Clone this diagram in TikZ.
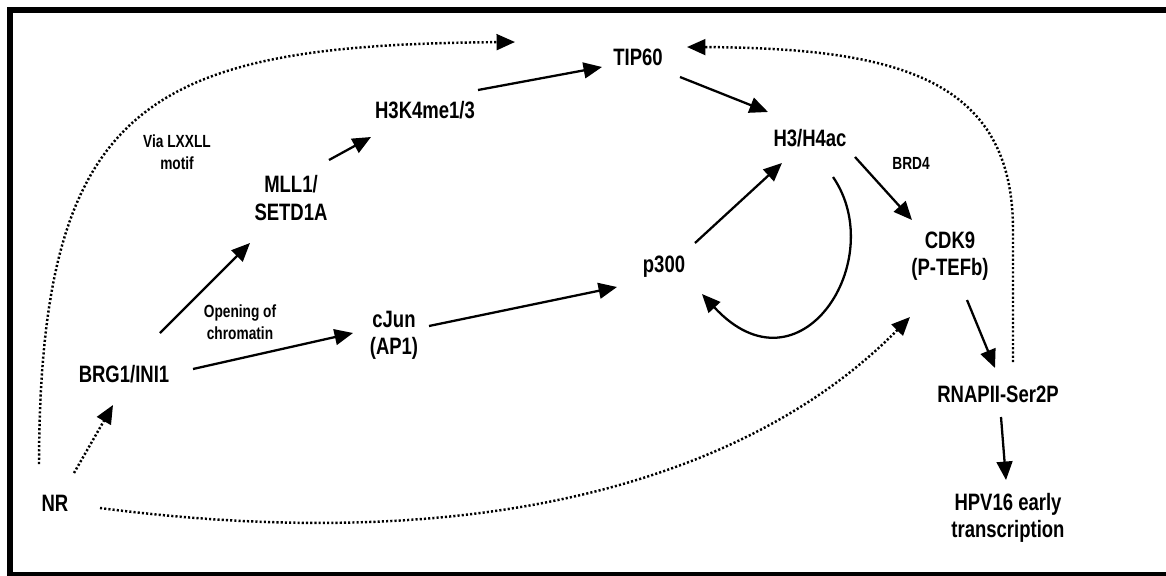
\documentclass[tikz,border=0pt]{standalone}
\usepackage{fontspec}
\setmainfont[FakeStretch=0.78]{Liberation Sans}
\usetikzlibrary{arrows.meta,calc}
\tikzset{
  lbl/.style={font=\fontsize{13.5}{15.4}\selectfont\bfseries, align=center, inner sep=1pt},
  sml/.style={font=\fontsize{10}{12.5}\selectfont\bfseries, align=center, inner sep=1pt},
  arr/.style={line width=1.3pt, -{Triangle[length=10.5pt,width=9pt]}},
  darr/.style={line width=1.4pt, dash pattern=on 1.2pt off 1.2pt, -{Triangle[length=10.5pt,width=9pt]}},
}
\begin{document}
\begin{tikzpicture}[x=0.02cm,y=-0.02cm]
\useasboundingbox (0,0) rectangle (1166,575);
\clip (0,0) rectangle (1166,575);
\draw[line width=3.4pt] (10,10) rectangle (1185,575);

\node[lbl] (TIP) at (638,57) {TIP60};
\node[lbl] (H3K4) at (425,110) {H3K4me1/3};
\node[lbl] (MLL) at (291,198) {MLL1/\\SETD1A};
\node[sml] (via) at (177,152) {Via LXXLL\\motif};
\node[lbl] (H3H4) at (810,138) {H3/H4ac};
\node[sml] (BRD) at (911,163) {BRD4};
\node[lbl] (CDK) at (950,256) {CDK9\\(P-TEFb)};
\node[lbl] (p300) at (664,267) {p300};
\node[lbl] (BRG) at (124,374) {BRG1/INI1};
\node[sml] (open) at (240,322) {Opening of\\chromatin};
\node[lbl] (cJun) at (394,335) {cJun\\(AP1)};
\node[lbl] (NR) at (55,503) {NR};
\node[lbl] (RNAP) at (998,394) {RNAPII-Ser2P};
\node[lbl] (HPV) at (1008,518) {HPV16 early\\transcription};

\draw[arr] ($(H3K4)+(53,-20)$) -- ($(TIP)+(-36,10)$);
\draw[arr] ($(MLL)+(38,-38)$) -- ($(H3K4)+(-54,27)$);
\draw[arr] ($(BRG)+(36,-41)$) -- ($(MLL)+(-41,45)$);
\draw[arr] ($(BRG)+(69,-5)$) -- ($(cJun)+(-41,-2)$);
\draw[arr] ($(cJun)+(35,-9)$) -- ($(p300)+(-47,20)$);
\draw[arr] ($(p300)+(31,-24)$) -- ($(H3H4)+(-28,25)$);
\draw[arr] ($(TIP)+(42,20)$) -- ($(H3H4)+(-42,-26)$);
\draw[arr] ($(H3H4)+(45,19)$) -- ($(CDK)+(-38,-36)$);
\draw[arr] ($(H3H4)+(23,39)$) .. controls (890,260) and (800,400) .. ($(p300)+(38,27)$);
\draw[arr] ($(CDK)+(17,44)$) -- ($(RNAP)+(-3,-26)$);
\draw[arr] ($(RNAP)+(3,23)$) -- ($(HPV)+(-2,-38)$);

\draw[darr] ($(NR)+(19,-30)$) -- ($(BRG)+(-11,31)$);
\draw[darr] ($(NR)+(-16,-39)$) .. controls (40,100) and (150,45) .. ($(TIP)+(-123,-15)$);
\draw[darr] ($(RNAP)+(15,-32)$) -- (1013,230) .. controls (1013,80) and (900,48) .. ($(TIP)+(49,-10)$);
\draw[darr] ($(NR)+(45,5)$) .. controls (500,560) and (760,470) .. ($(CDK)+(-40,61)$);
\end{tikzpicture}
\end{document}
